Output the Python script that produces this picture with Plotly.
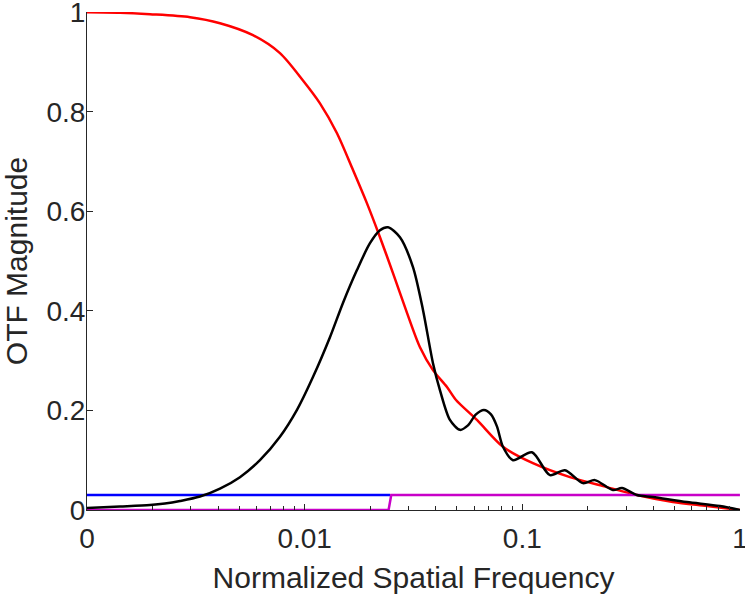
import plotly.graph_objects as go

# Red curve
red_f = [0.001, 0.001418, 0.001947, 0.002973, 0.004083, 0.005789, 0.007701, 0.009825,
         0.01176, 0.01408, 0.01668, 0.01934, 0.02219, 0.02546, 0.02953, 0.03388,
         0.03887, 0.04507, 0.0496, 0.06189, 0.08151, 0.1119, 0.1656, 0.2449,
         0.3363, 0.4922, 0.7055, 1.0]
red_v = [1.0, 0.999, 0.996, 0.990, 0.978, 0.954, 0.918, 0.863,
         0.817, 0.757, 0.683, 0.616, 0.548, 0.476, 0.396, 0.327,
         0.281, 0.247, 0.221, 0.181, 0.127, 0.094, 0.066, 0.046,
         0.030, 0.016, 0.008, 0.0]

# Black curve
black_f = [0.001, 0.001418, 0.001947, 0.002280, 0.002675, 0.003305, 0.004083, 0.005044, 0.006233,
           0.007701, 0.009221, 0.01092, 0.01307, 0.01500, 0.01739, 0.01996, 0.02219,
           0.02415, 0.02741, 0.03146, 0.03497, 0.03887, 0.04184, 0.04651, 0.05171,
           0.05628, 0.06124, 0.06665, 0.07179, 0.07648, 0.08151, 0.09061, 0.1107, 0.1340, 0.1570,
           0.1900, 0.2157, 0.2609, 0.2870, 0.3363, 0.3984, 0.5707, 0.8093, 1.0]
black_v = [0.004, 0.007, 0.010, 0.013, 0.018, 0.027, 0.043, 0.066, 0.100,
           0.147, 0.201, 0.267, 0.347, 0.416, 0.482, 0.536, 0.562,
           0.568, 0.548, 0.488, 0.402, 0.295, 0.241, 0.181, 0.161,
           0.170, 0.192, 0.201, 0.192, 0.168, 0.127, 0.100, 0.116, 0.070, 0.080,
           0.054, 0.060, 0.040, 0.044, 0.030, 0.026, 0.016, 0.008, 0.0]

# Blue line
blue_f = [0.001, 0.0247]
blue_v = [0.03, 0.03]

# Magenta step
mag_f = [0.001, 0.0243, 0.0250, 1.0]
mag_v = [0.0, 0.0, 0.03, 0.03]

x_tickvals = [0.001, 0.01, 0.1, 1]
x_ticktext = ["0", "0.01", "0.1", "1"]
y_tickvals = [0, 0.2, 0.4, 0.6, 0.8, 1]
y_ticktext = ["0", "0.2", "0.4", "0.6", "0.8", "1"]

fig = go.Figure()
fig.add_trace(go.Scatter(x=red_f, y=red_v, mode="lines",
                         line=dict(color="#FF0000", width=2.5, shape="spline", smoothing=0.8)))
fig.add_trace(go.Scatter(x=blue_f, y=blue_v, mode="lines",
                         line=dict(color="#0000FF", width=2.5)))
fig.add_trace(go.Scatter(x=mag_f, y=mag_v, mode="lines",
                         line=dict(color="#C800C8", width=2.5)))
fig.add_trace(go.Scatter(x=black_f, y=black_v, mode="lines",
                         line=dict(color="#000000", width=2.5, shape="spline", smoothing=0.8)))

font = "Liberation Sans, Arial, sans-serif"
fig.update_layout(
    width=745, height=598,
    margin=dict(l=87, r=5, t=12, b=88),
    paper_bgcolor="white", plot_bgcolor="white",
    showlegend=False,
    font=dict(family=font, size=28, color="#262626"),
    xaxis=dict(
        type="log", range=[-3, 0.0003], tickmode="array",
        tickvals=x_tickvals, ticktext=x_ticktext,
        ticks="inside", ticklen=6, tickwidth=1, tickcolor="#262626",
        showline=True, linecolor="#262626", linewidth=1,
        showgrid=False, zeroline=False, automargin=False,
        ticklabeloverflow="allow", ticklabelstandoff=3,
        minor=dict(ticks="inside", ticklen=4, tickcolor="#262626", dtick="D1", showgrid=False),
        title=dict(text="Normalized Spatial Frequency", font=dict(size=30), standoff=14),
        tickfont=dict(size=28),
    ),
    yaxis=dict(
        range=[0, 1.0005], tickmode="array", tickvals=y_tickvals, ticktext=y_ticktext,
        ticks="inside", ticklen=6, tickwidth=1, tickcolor="#262626",
        showline=True, linecolor="#262626", linewidth=1,
        showgrid=False, zeroline=False, automargin=False,
        ticklabeloverflow="allow", ticklabelstandoff=-5,
        title=dict(text="OTF Magnitude", font=dict(size=30), standoff=30),
        tickfont=dict(size=28),
    ),
)

fig.write_html("out.html", config={"displayModeBar": False},
               post_script="document.body.style.margin='0px';")
